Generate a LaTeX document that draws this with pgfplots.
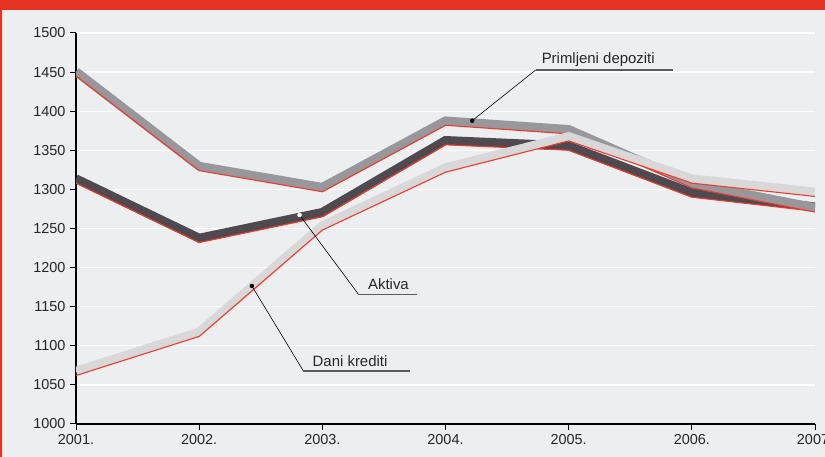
\documentclass[border=0pt]{standalone}
\usepackage{fontspec}
\setmainfont{Liberation Sans}
\usepackage{pgfplots}
\pgfplotsset{compat=1.18}
\definecolor{bg}{HTML}{EDEEF0}
\definecolor{hred}{HTML}{E63323}
\definecolor{lred}{HTML}{EE3B2B}
\definecolor{darkband}{HTML}{4E4A4F}
\definecolor{midband}{HTML}{98979B}
\definecolor{lightband}{HTML}{D8D8D9}
\definecolor{leader}{HTML}{5A5A5A}

\pgfplotstableread{
year aktiva depoziti krediti
2001 1308 1445 1062
2002 1232 1324 1112
2003 1265 1297 1248
2004 1357 1382 1322
2005 1350 1371 1362
2006 1290 1302 1308
2007 1272 1271 1291
}\datatable

\begin{document}
\begin{tikzpicture}[x=1bp,y=1bp]
\fill[bg] (-76,-33) rectangle (749,424);
\fill[hred] (-76,414) rectangle (749,424);
\fill[hred] (-76,-33) rectangle (-73.5,424);
\begin{axis}[
  at={(0,0)}, anchor=south west,
  scale only axis, width=739bp, height=391bp,
  xmin=2001, xmax=2007, ymin=1000, ymax=1500,
  xtick={2001,2002,2003,2004,2005,2006,2007},
  xticklabels={2001.,2002.,2003.,2004.,2005.,2006.,2007.},
  ytick={1000,1050,...,1500},
  axis x line*=bottom, axis y line*=left,
  x axis line style={black, line width=2.2pt},
  y axis line style={black, line width=1.5pt},
  tick align=outside, major tick length=6bp,
  tick style={black, line width=1pt},
  ymajorgrids, grid style={white, line width=1.3pt},
  /pgf/number format/assume math mode=true,
  /pgf/number format/1000 sep={},
  tick label style={font=\fontsize{14.5}{16}\selectfont, text=black!85},
  yticklabel style={xshift=-1bp},
  xticklabel style={yshift=-1bp},
]
% Aktiva
\addplot[draw=darkband, line width=8.8bp, yshift=4.4bp, line join=miter, line cap=butt] table[x=year, y=aktiva] {\datatable};
\addplot[draw=lred, line width=1.1pt, line join=miter] table[x=year, y=aktiva] {\datatable};
% Primljeni depoziti
\addplot[draw=midband, line width=8.8bp, yshift=4.4bp, line join=miter, line cap=butt] table[x=year, y=depoziti] {\datatable};
\addplot[draw=lred, line width=1.1pt, line join=miter] table[x=year, y=depoziti] {\datatable};
% Dani krediti
\addplot[draw=lightband, line width=8.8bp, yshift=4.4bp, line join=miter, line cap=butt] table[x=year, y=krediti] {\datatable};
\addplot[draw=lred, line width=1.1pt, line join=miter] table[x=year, y=krediti] {\datatable};

% leader lines
\addplot[black, line width=0.6pt] coordinates {(2004.217,1387.9) (2004.732,1452.7)};
\addplot[leader, line width=1.3pt] coordinates {(2004.732,1452.7) (2005.846,1452.7)};
\addplot[black, line width=0.6pt] coordinates {(2002.815,1267.3) (2003.293,1165.9)};
\addplot[leader, line width=1.3pt] coordinates {(2003.293,1165.9) (2003.772,1165.9)};
\addplot[black, line width=0.6pt] coordinates {(2002.428,1176.5) (2002.846,1067.8)};
\addplot[leader, line width=1.3pt] coordinates {(2002.846,1067.8) (2003.715,1067.8)};
\addplot[only marks, mark=*, mark size=2bp, black] coordinates {(2004.217,1387.9) (2002.428,1176.5)};
\addplot[only marks, mark=*, mark size=2bp, draw=white, fill=white] coordinates {(2002.815,1267.3)};

\node[anchor=base west, font=\fontsize{15}{17}\selectfont, text=black!85, inner sep=0pt] at (axis cs:2004.78,1461.6) {Primljeni depoziti};
\node[anchor=base west, font=\fontsize{15}{17}\selectfont, text=black!85, inner sep=0pt] at (axis cs:2003.37,1172.6) {Aktiva};
\node[anchor=base west, font=\fontsize{15}{17}\selectfont, text=black!85, inner sep=0pt] at (axis cs:2002.92,1073.3) {Dani krediti};
\end{axis}
\pgfresetboundingbox
\useasboundingbox (-76,-33) rectangle (749,424);
\end{tikzpicture}
\end{document}
